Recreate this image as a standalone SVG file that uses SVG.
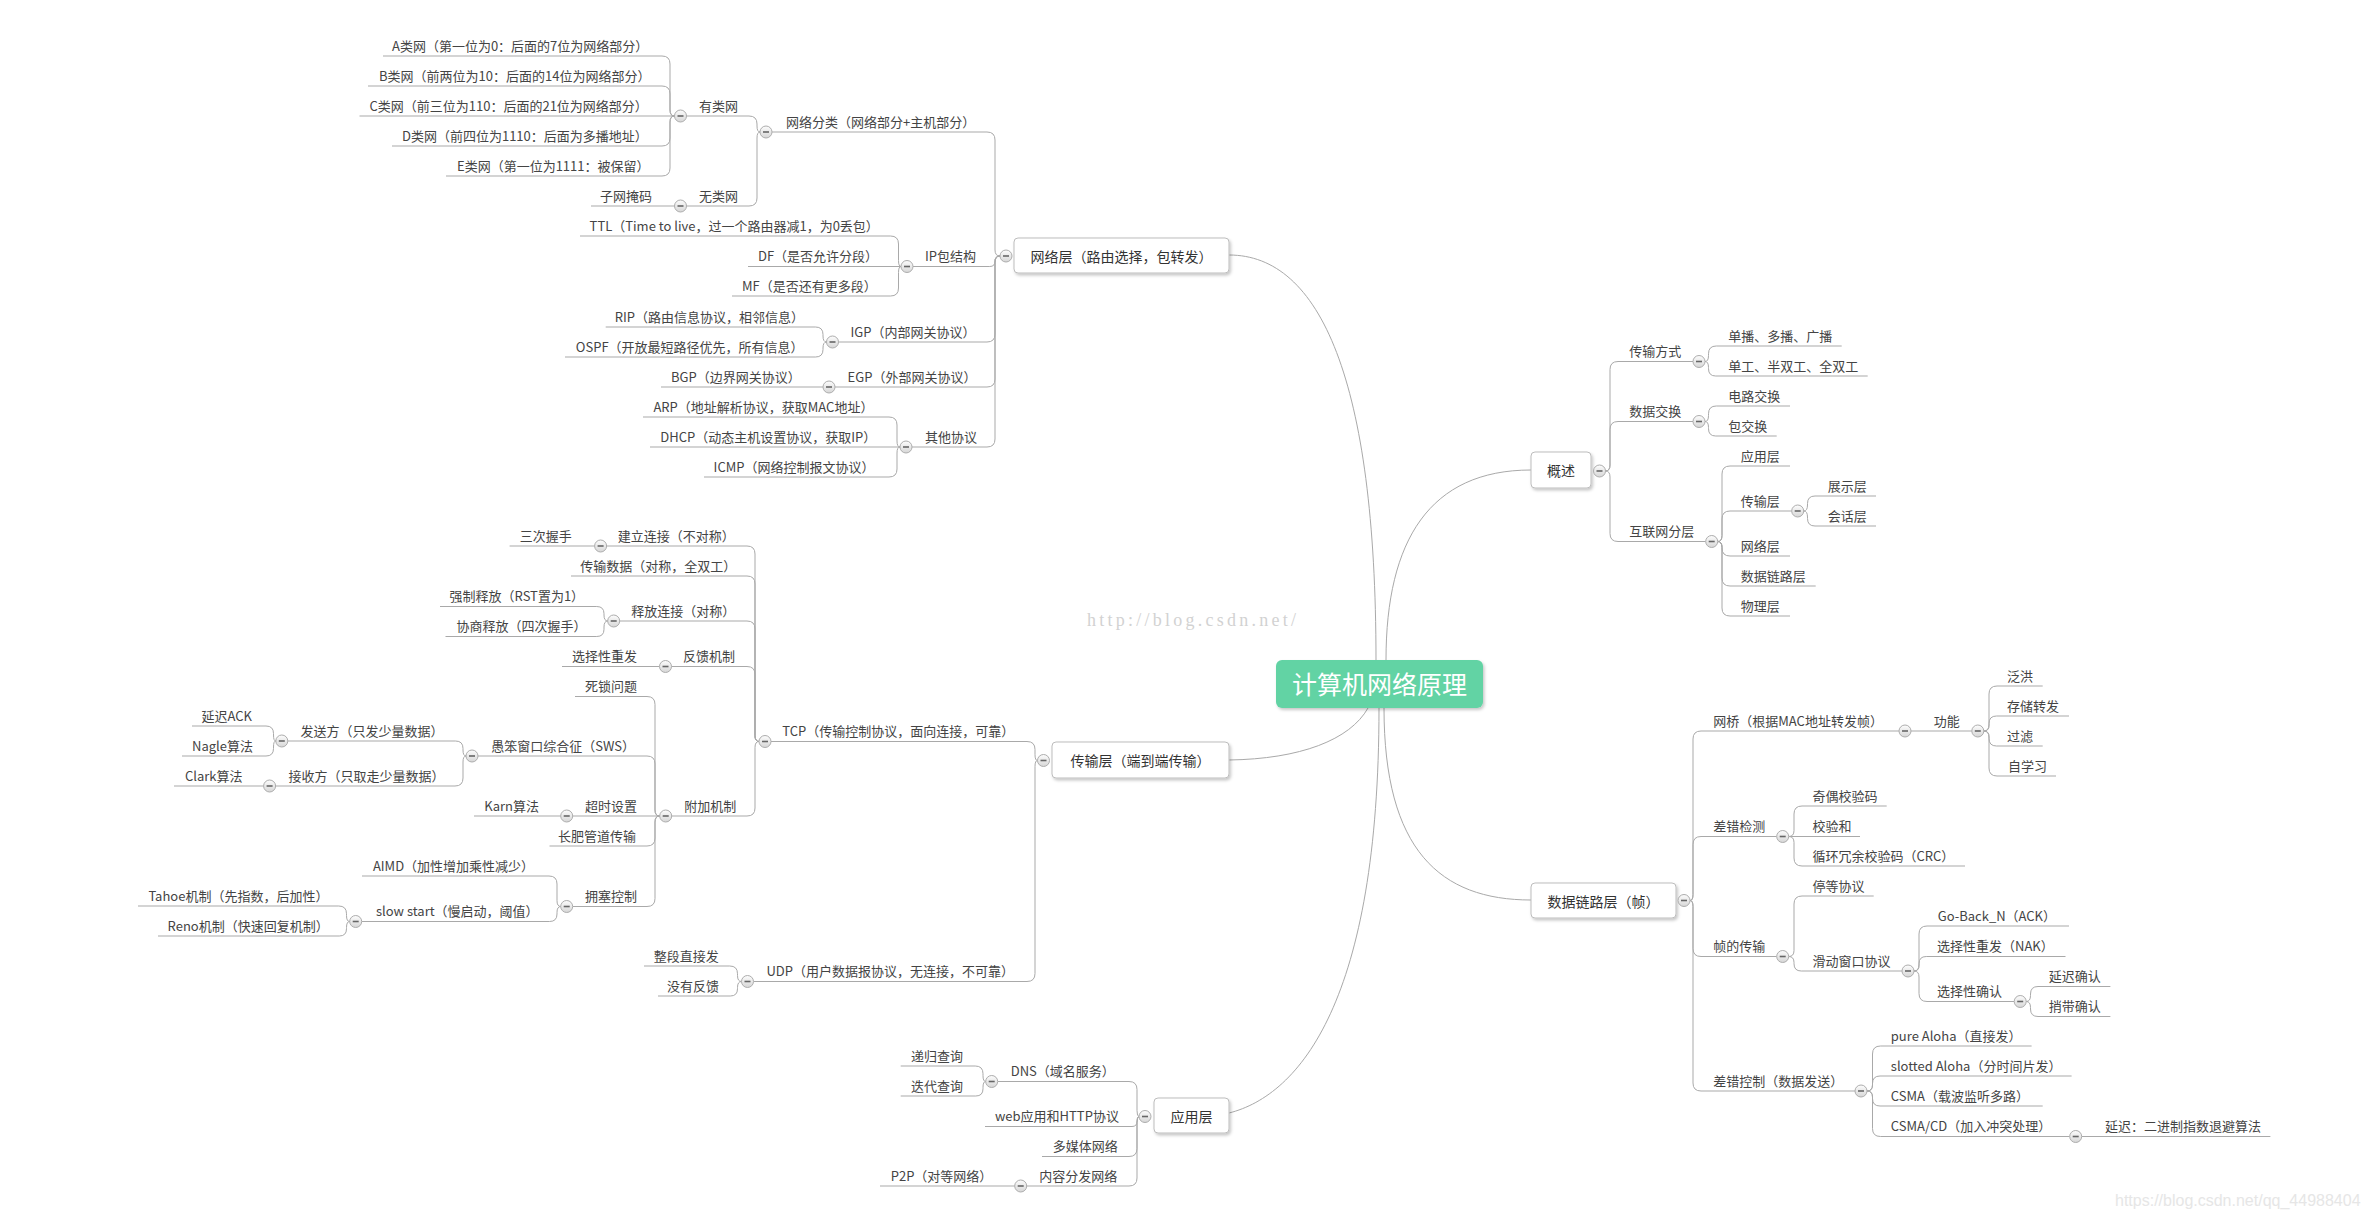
<svg xmlns="http://www.w3.org/2000/svg" width="2367" height="1220" viewBox="0 0 2367 1220">
<style>
text{font-family:"Noto Sans CJK SC","Microsoft YaHei",sans-serif;fill:#444;font-size:13px}
.mt{font-size:14px;text-anchor:middle;fill:#333}
.ct{font-size:25px;text-anchor:middle;fill:#fff}
.ln{fill:none;stroke:#a9a9a9;stroke-width:1}
.box{fill:#fff;stroke:#bdbdbd;stroke-width:1}
.wm1{font-family:"Liberation Serif",serif;font-size:18px;fill:#d2d2d2}
.wm2{font-family:"Liberation Sans",Arial,sans-serif;font-size:16px;fill:#e6e6e6}
</style>
<defs>
<linearGradient id="cg" x1="0" y1="0" x2="0" y2="1"><stop offset="0" stop-color="#fdfdfd"/><stop offset="1" stop-color="#d6d6d6"/></linearGradient>
<filter id="sh" x="-10%" y="-20%" width="120%" height="150%"><feDropShadow dx="1.5" dy="2" stdDeviation="1.5" flood-color="#000" flood-opacity="0.22"/></filter>
<g id="btn"><circle r="6" fill="url(#cg)" stroke="#adadad" stroke-width="1"/><path d="M-3,0H3" stroke="#666" stroke-width="1.6"/></g>
</defs>
<rect width="2367" height="1220" fill="#fff"/>
<text class="wm1" x="1087" y="626" textLength="209" lengthAdjust="spacing">http://blog.csdn.net/</text>
<text class="wm2" x="2115" y="1206">https://blog.csdn.net/qq_44988404</text>

<g id="connectors" class="ln">
<path d="M1229,255 C1320,255 1376,380 1376,660"/>
<path d="M1386,660 C1386,540 1430,470 1531,470"/>
<path d="M1229,760 C1300,759 1350,740 1368,708"/>
<path d="M1229,1113 C1300,1095 1379,1000 1379,708"/>
<path d="M1384,708 C1384,850 1440,900 1531,900"/>
<!-- network -->
<path d="M1000,256 Q995,256 995,250 V140 Q995,132 987,132 H772"/>
<path d="M1000,256 Q995,256 995,261.25 Q995,266.5 989.75,266.5 H913"/>
<path d="M1000,256 Q995,256 995,262 V334 Q995,342 987,342 H838.5"/>
<path d="M1000,256 Q995,256 995,262 V379 Q995,387 987,387 H835"/>
<path d="M1000,256 Q995,256 995,262 V439 Q995,447 987,447 H912"/>
<path d="M760,132 Q757,132 757,126 V124 Q757,116 749,116 H686.5"/>
<path d="M760,132 Q757,132 757,138 V198 Q757,206 749,206 H686.5"/>
<path d="M674.5,116 Q670,116 670,110 V64 Q670,56 662,56 H383"/>
<path d="M674.5,116 Q670,116 670,110 V94 Q670,86 662,86 H368"/>
<path d="M674.5,116 H359.5"/>
<path d="M674.5,116 Q670,116 670,122 V138 Q670,146 662,146 H392"/>
<path d="M674.5,116 Q670,116 670,122 V168 Q670,176 662,176 H446"/>
<path d="M674.5,206 H591"/>
<path d="M901,266.5 Q898.5,266.5 898.5,260.5 V244 Q898.5,236 890.5,236 H580"/>
<path d="M901,266.5 H748"/>
<path d="M901,266.5 Q898.5,266.5 898.5,272.5 V288 Q898.5,296 890.5,296 H732"/>
<path d="M826.5,342 Q823,342 823,336 V334.5 Q823,327 815.5,327 H605.7"/>
<path d="M826.5,342 Q823,342 823,348 V349.5 Q823,357 815.5,357 H565"/>
<path d="M823,387 H661"/>
<path d="M900,447 Q897,447 897,441 V425 Q897,417 889,417 H643"/>
<path d="M900,447 H650"/>
<path d="M900,447 Q897,447 897,453 V469 Q897,477 889,477 H704"/>
<!-- transport -->
<path d="M1037.5,760.5 Q1035,760.5 1035,754.5 V749.5 Q1035,741.5 1027,741.5 H771"/>
<path d="M1037.5,760.5 Q1035,760.5 1035,766.5 V973.5 Q1035,981.5 1027,981.5 H753.5"/>
<path d="M759,741.5 Q755,741.5 755,735.5 V554 Q755,546 747,546 H606.6"/>
<path d="M759,741.5 Q755,741.5 755,735.5 V584 Q755,576 747,576 H571"/>
<path d="M759,741.5 Q755,741.5 755,735.5 V629 Q755,621 747,621 H619.7"/>
<path d="M759,741.5 Q755,741.5 755,735.5 V674.5 Q755,666.5 747,666.5 H671.5"/>
<path d="M759,741.5 Q755,741.5 755,747.5 V808 Q755,816 747,816 H671.7"/>
<path d="M594.6,546 H509.6"/>
<path d="M607.7,621 Q604,621 604,615 V613.75 Q604,606.5 596.75,606.5 H440"/>
<path d="M607.7,621 Q604,621 604,627 V629.25 Q604,636.5 596.75,636.5 H445.5"/>
<path d="M659.5,666.5 H562"/>
<path d="M659.7,816 Q655,816 655,810 V704.5 Q655,696.5 647,696.5 H575"/>
<path d="M659.7,816 Q655,816 655,810 V764 Q655,756 647,756 H478"/>
<path d="M659.7,816 H572.7"/>
<path d="M659.7,816 Q655,816 655,822 V838 Q655,846 647,846 H549.5"/>
<path d="M659.7,816 Q655,816 655,822 V898.5 Q655,906.5 647,906.5 H572.7"/>
<path d="M466,756 Q463,756 463,750 V748.5 Q463,741 455.5,741 H287.8"/>
<path d="M466,756 Q463,756 463,762 V778 Q463,786 455,786 H275.6"/>
<path d="M275.8,741 Q273.5,741 273.5,735 V733.5 Q273.5,726 266,726 H192"/>
<path d="M275.8,741 Q273.5,741 273.5,747 V748.5 Q273.5,756 266,756 H182"/>
<path d="M263.6,786 H174"/>
<path d="M560.7,816 H474"/>
<path d="M560.7,906.5 Q557,906.5 557,900.5 V884 Q557,876 549,876 H362"/>
<path d="M560.7,906.5 Q557,906.5 557,912.5 V914 Q557,921.5 549.5,921.5 H361.7"/>
<path d="M349.7,921.5 Q346.5,921.5 346.5,915.5 V913.75 Q346.5,906 338.75,906 H138"/>
<path d="M349.7,921.5 Q346.5,921.5 346.5,927.5 V928.75 Q346.5,936 339.25,936 H158"/>
<path d="M741.5,981.5 Q737.5,981.5 737.5,975.5 V973.75 Q737.5,966 729.75,966 H644"/>
<path d="M741.5,981.5 Q737.5,981.5 737.5,987.5 V988.75 Q737.5,996 730.25,996 H658"/>
<!-- application -->
<path d="M1139,1116.5 Q1137,1116.5 1137,1110.5 V1089.5 Q1137,1081.5 1129,1081.5 H997.7"/>
<path d="M1139,1116.5 Q1137,1116.5 1137,1121.5 Q1137,1126.5 1132,1126.5 H985"/>
<path d="M1139,1116.5 Q1137,1116.5 1137,1122.5 V1148.5 Q1137,1156.5 1129,1156.5 H1042"/>
<path d="M1139,1116.5 Q1137,1116.5 1137,1122.5 V1178 Q1137,1186 1129,1186 H1026.7"/>
<path d="M985.7,1081.5 Q983,1081.5 983,1075.5 V1073.75 Q983,1066 975.25,1066 H900.7"/>
<path d="M985.7,1081.5 Q983,1081.5 983,1087.5 V1088.75 Q983,1096 975.75,1096 H900.7"/>
<path d="M1014.7,1186 H880"/>
<!-- overview -->
<path d="M1605.5,471 Q1610,471 1610,465 V369.5 Q1610,361.5 1618,361.5 H1693"/>
<path d="M1605.5,471 Q1610,471 1610,465 V429.5 Q1610,421.5 1618,421.5 H1693"/>
<path d="M1605.5,471 Q1610,471 1610,477 V533.5 Q1610,541.5 1618,541.5 H1705.7"/>
<path d="M1705,361.5 Q1708.5,361.5 1708.5,355.5 V353.75 Q1708.5,346 1716.25,346 H1841.7"/>
<path d="M1705,361.5 Q1708.5,361.5 1708.5,367.5 V368.75 Q1708.5,376 1715.75,376 H1867.7"/>
<path d="M1705,421.5 Q1708.5,421.5 1708.5,415.5 V413.75 Q1708.5,406 1716.25,406 H1790"/>
<path d="M1705,421.5 Q1708.5,421.5 1708.5,427.5 V428.75 Q1708.5,436 1715.75,436 H1776.7"/>
<path d="M1717.7,541.5 Q1722,541.5 1722,535.5 V474 Q1722,466 1730,466 H1790"/>
<path d="M1717.7,541.5 Q1722,541.5 1722,535.5 V519 Q1722,511 1730,511 H1791.7"/>
<path d="M1717.7,541.5 Q1722,541.5 1722,547.5 V548 Q1722,556 1730,556 H1790"/>
<path d="M1717.7,541.5 Q1722,541.5 1722,547.5 V578 Q1722,586 1730,586 H1815.7"/>
<path d="M1717.7,541.5 Q1722,541.5 1722,547.5 V608 Q1722,616 1730,616 H1790"/>
<path d="M1803.7,511 Q1807.5,511 1807.5,505 V503.5 Q1807.5,496 1815,496 H1876"/>
<path d="M1803.7,511 Q1807.5,511 1807.5,517 V518.5 Q1807.5,526 1815,526 H1876"/>
<!-- data link -->
<path d="M1690,900.5 Q1693,900.5 1693,894.5 V739 Q1693,731 1701,731 H1899"/>
<path d="M1690,900.5 Q1693,900.5 1693,894.5 V844.5 Q1693,836.5 1701,836.5 H1776.7"/>
<path d="M1690,900.5 Q1693,900.5 1693,906.5 V948.5 Q1693,956.5 1701,956.5 H1776.7"/>
<path d="M1690,900.5 Q1693,900.5 1693,906.5 V1083 Q1693,1091 1701,1091 H1855"/>
<path d="M1911,731 H1971.8"/>
<path d="M1983.8,731 Q1989,731 1989,725 V694 Q1989,686 1997,686 H2042.7"/>
<path d="M1983.8,731 Q1989,731 1989,725 V723.5 Q1989,716 1996.5,716 H2069"/>
<path d="M1983.8,731 Q1989,731 1989,737 V738.5 Q1989,746 1996.5,746 H2042.7"/>
<path d="M1983.8,731 Q1989,731 1989,737 V768 Q1989,776 1997,776 H2056"/>
<path d="M1788.7,836.5 Q1794,836.5 1794,830.5 V814 Q1794,806 1802,806 H1886.7"/>
<path d="M1788.7,836.5 H1860"/>
<path d="M1788.7,836.5 Q1794,836.5 1794,842.5 V858 Q1794,866 1802,866 H1965"/>
<path d="M1788.7,956.5 Q1794,956.5 1794,950.5 V904 Q1794,896 1802,896 H1873.7"/>
<path d="M1788.7,956.5 Q1794,956.5 1794,962.5 V963.75 Q1794,971 1801.25,971 H1902"/>
<path d="M1914,971 Q1919,971 1919,965 V934 Q1919,926 1927,926 H2069"/>
<path d="M1914,971 Q1919,971 1919,965 V963.75 Q1919,956.5 1926.25,956.5 H2065.5"/>
<path d="M1914,971 Q1919,971 1919,977 V993.5 Q1919,1001.5 1927,1001.5 H2014.2"/>
<path d="M2026.2,1001.5 Q2030.5,1001.5 2030.5,995.5 V994 Q2030.5,986.5 2038,986.5 H2110.4"/>
<path d="M2026.2,1001.5 Q2030.5,1001.5 2030.5,1007.5 V1009 Q2030.5,1016.5 2038,1016.5 H2110.4"/>
<path d="M1867,1091 Q1872.5,1091 1872.5,1085 V1054 Q1872.5,1046 1880.5,1046 H2031.6"/>
<path d="M1867,1091 Q1872.5,1091 1872.5,1085 V1083.5 Q1872.5,1076 1880,1076 H2071.6"/>
<path d="M1867,1091 Q1872.5,1091 1872.5,1097 V1098.5 Q1872.5,1106 1880,1106 H2042.7"/>
<path d="M1867,1091 Q1872.5,1091 1872.5,1097 V1128.5 Q1872.5,1136.5 1880.5,1136.5 H2069.7"/>
<path d="M2081.7,1136.5 H2270.4"/>
</g>

<g id="root"><rect x="1276" y="660" width="207" height="48" rx="6" fill="#62d3a4" filter="url(#sh)"/><text class="ct" x="1379.5" y="694">计算机网络原理</text></g>

<g id="n-net"><rect class="box" x="1014" y="238" width="215" height="35" rx="4" filter="url(#sh)"/><text class="mt" x="1121.5" y="261.5">网络层（路由选择，包转发）</text><use href="#btn" x="1006" y="256"/></g>
<g id="n-wlfl"><text x="786" y="126.5">网络分类（网络部分+主机部分）</text><use href="#btn" x="766" y="132"/></g>
<g id="n-ylw"><text x="699" y="110.5">有类网</text><use href="#btn" x="680.5" y="116"/></g>
<g id="n-a"><text x="392" y="50.5">A类网（第一位为0：后面的7位为网络部分）</text></g>
<g id="n-b"><text x="379" y="80.5">B类网（前两位为10：后面的14位为网络部分）</text></g>
<g id="n-c"><text x="369.5" y="110.5">C类网（前三位为110：后面的21位为网络部分）</text></g>
<g id="n-d"><text x="402" y="140.5">D类网（前四位为1110：后面为多播地址）</text></g>
<g id="n-e"><text x="457" y="170.5">E类网（第一位为1111：被保留）</text></g>
<g id="n-wlw"><text x="699" y="200.5">无类网</text><use href="#btn" x="680.5" y="206"/></g>
<g id="n-zwym"><text x="600" y="200.5">子网掩码</text></g>
<g id="n-ip"><text x="925" y="261">IP包结构</text><use href="#btn" x="907" y="266.5"/></g>
<g id="n-ttl"><text x="589.6" y="230.5">TTL（Time to live，过一个路由器减1，为0丢包）</text></g>
<g id="n-df"><text x="758" y="261">DF（是否允许分段）</text></g>
<g id="n-mf"><text x="742" y="290.5">MF（是否还有更多段）</text></g>
<g id="n-igp"><text x="850.4" y="336.5">IGP（内部网关协议）</text><use href="#btn" x="832.5" y="342"/></g>
<g id="n-rip"><text x="614.8" y="321.5">RIP（路由信息协议，相邻信息）</text></g>
<g id="n-ospf"><text x="575.8" y="351.5">OSPF（开放最短路径优先，所有信息）</text></g>
<g id="n-egp"><text x="847.6" y="381.5">EGP（外部网关协议）</text><use href="#btn" x="829" y="387"/></g>
<g id="n-bgp"><text x="671" y="381.5">BGP（边界网关协议）</text></g>
<g id="n-qt"><text x="925" y="441.5">其他协议</text><use href="#btn" x="906" y="447"/></g>
<g id="n-arp"><text x="653.4" y="411.5">ARP（地址解析协议，获取MAC地址）</text></g>
<g id="n-dhcp"><text x="660.3" y="441.5">DHCP（动态主机设置协议，获取IP）</text></g>
<g id="n-icmp"><text x="713.6" y="471.5">ICMP（网络控制报文协议）</text></g>

<g id="t-trans"><rect class="box" x="1052" y="742" width="177" height="36" rx="4" filter="url(#sh)"/><text class="mt" x="1140.5" y="766">传输层（端到端传输）</text><use href="#btn" x="1043.5" y="760.5"/></g>
<g id="t-tcp"><text x="782.3" y="736">TCP（传输控制协议，面向连接，可靠）</text><use href="#btn" x="765" y="741.5"/></g>
<g id="t-jl"><text x="617.8" y="540.5">建立连接（不对称）</text><use href="#btn" x="600.6" y="546"/></g>
<g id="t-sw"><text x="519.8" y="540.5">三次握手</text></g>
<g id="t-cs"><text x="580.2" y="570.5">传输数据（对称，全双工）</text></g>
<g id="t-sf"><text x="631.2" y="615.5">释放连接（对称）</text><use href="#btn" x="613.7" y="621"/></g>
<g id="t-qz"><text x="449.6" y="601">强制释放（RST置为1）</text></g>
<g id="t-xs"><text x="456.5" y="631">协商释放（四次握手）</text></g>
<g id="t-fk"><text x="683" y="661">反馈机制</text><use href="#btn" x="665.5" y="666.5"/></g>
<g id="t-xzcf"><text x="572" y="661">选择性重发</text></g>
<g id="t-fj"><text x="684.3" y="810.5">附加机制</text><use href="#btn" x="665.7" y="816"/></g>
<g id="t-ss"><text x="585" y="691">死锁问题</text></g>
<g id="t-sws"><text x="491.2" y="750.5">愚笨窗口综合征（SWS）</text><use href="#btn" x="472" y="756"/></g>
<g id="t-fsf"><text x="300.6" y="735.5">发送方（只发少量数据）</text><use href="#btn" x="281.8" y="741"/></g>
<g id="t-ysack"><text x="201.4" y="720.5">延迟ACK</text></g>
<g id="t-nagle"><text x="192" y="750.5">Nagle算法</text></g>
<g id="t-jsf"><text x="288.4" y="780.5">接收方（只取走少量数据）</text><use href="#btn" x="269.6" y="786"/></g>
<g id="t-clark"><text x="185" y="780.5">Clark算法</text></g>
<g id="t-cssz"><text x="585" y="810.5">超时设置</text><use href="#btn" x="566.7" y="816"/></g>
<g id="t-karn"><text x="484.3" y="810.5">Karn算法</text></g>
<g id="t-cf"><text x="558" y="840.5">长肥管道传输</text></g>
<g id="t-yskz"><text x="585" y="901">拥塞控制</text><use href="#btn" x="566.7" y="906.5"/></g>
<g id="t-aimd"><text x="372.9" y="870.5">AIMD（加性增加乘性减少）</text></g>
<g id="t-slow"><text x="376" y="916">slow start（慢启动，阈值）</text><use href="#btn" x="355.7" y="921.5"/></g>
<g id="t-tahoe"><text x="148.4" y="900.5">Tahoe机制（先指数，后加性）</text></g>
<g id="t-reno"><text x="167.6" y="930.5">Reno机制（快速回复机制）</text></g>
<g id="t-udp"><text x="766.5" y="976">UDP（用户数据报协议，无连接，不可靠）</text><use href="#btn" x="747.5" y="981.5"/></g>
<g id="t-zd"><text x="653.8" y="960.5">整段直接发</text></g>
<g id="t-my"><text x="666.9" y="990.5">没有反馈</text></g>

<g id="a-app"><rect class="box" x="1154" y="1098" width="75" height="35" rx="4" filter="url(#sh)"/><text class="mt" x="1191.5" y="1121.5">应用层</text><use href="#btn" x="1145" y="1116.5"/></g>
<g id="a-dns"><text x="1010.7" y="1076">DNS（域名服务）</text><use href="#btn" x="991.7" y="1081.5"/></g>
<g id="a-dg"><text x="911" y="1060.5">递归查询</text></g>
<g id="a-dd"><text x="911" y="1090.5">迭代查询</text></g>
<g id="a-web"><text x="995" y="1121">web应用和HTTP协议</text></g>
<g id="a-dmt"><text x="1052.7" y="1151">多媒体网络</text></g>
<g id="a-nr"><text x="1039.3" y="1180.5">内容分发网络</text><use href="#btn" x="1020.7" y="1186"/></g>
<g id="a-p2p"><text x="890.7" y="1180.5">P2P（对等网络）</text></g>

<g id="o-ov"><rect class="box" x="1531" y="452" width="60" height="36" rx="4" filter="url(#sh)"/><text class="mt" x="1561" y="476">概述</text><use href="#btn" x="1599.5" y="471"/></g>
<g id="o-csfs"><text x="1629.3" y="356">传输方式</text><use href="#btn" x="1699" y="361.5"/></g>
<g id="o-db"><text x="1728.3" y="340.5">单播、多播、广播</text></g>
<g id="o-dg"><text x="1728.3" y="370.5">单工、半双工、全双工</text></g>
<g id="o-sjjh"><text x="1629.3" y="416">数据交换</text><use href="#btn" x="1699" y="421.5"/></g>
<g id="o-dl"><text x="1728.3" y="400.5">电路交换</text></g>
<g id="o-bjh"><text x="1728.3" y="430.5">包交换</text></g>
<g id="o-hlw"><text x="1629.3" y="536">互联网分层</text><use href="#btn" x="1711.7" y="541.5"/></g>
<g id="o-yyc"><text x="1740.7" y="460.5">应用层</text></g>
<g id="o-csc"><text x="1740.7" y="505.5">传输层</text><use href="#btn" x="1797.7" y="511"/></g>
<g id="o-zsc"><text x="1827.7" y="490.5">展示层</text></g>
<g id="o-hhc"><text x="1827.7" y="520.5">会话层</text></g>
<g id="o-wlc"><text x="1740.7" y="550.5">网络层</text></g>
<g id="o-sjll"><text x="1740.7" y="580.5">数据链路层</text></g>
<g id="o-wl"><text x="1740.7" y="610.5">物理层</text></g>

<g id="d-dl"><rect class="box" x="1531" y="883" width="145" height="35" rx="4" filter="url(#sh)"/><text class="mt" x="1603.5" y="906.5">数据链路层（帧）</text><use href="#btn" x="1684" y="900.5"/></g>
<g id="d-wq"><text x="1713.3" y="725.5">网桥（根据MAC地址转发帧）</text><use href="#btn" x="1905" y="731"/></g>
<g id="d-gn"><text x="1933.7" y="725.5">功能</text><use href="#btn" x="1977.8" y="731"/></g>
<g id="d-fh"><text x="2007" y="680.5">泛洪</text></g>
<g id="d-cc"><text x="2007" y="710.5">存储转发</text></g>
<g id="d-gl"><text x="2007" y="740.5">过滤</text></g>
<g id="d-zxx"><text x="2008" y="770.5">自学习</text></g>
<g id="d-cwjc"><text x="1713.3" y="831">差错检测</text><use href="#btn" x="1782.7" y="836.5"/></g>
<g id="d-jo"><text x="1812.4" y="800.5">奇偶校验码</text></g>
<g id="d-jyh"><text x="1812.4" y="831">校验和</text></g>
<g id="d-crc"><text x="1812.4" y="860.5">循环冗余校验码（CRC）</text></g>
<g id="d-zcs"><text x="1713.3" y="951">帧的传输</text><use href="#btn" x="1782.7" y="956.5"/></g>
<g id="d-td"><text x="1812.4" y="890.5">停等协议</text></g>
<g id="d-hd"><text x="1812.4" y="965.5">滑动窗口协议</text><use href="#btn" x="1908" y="971"/></g>
<g id="d-gb"><text x="1937.8" y="920.5">Go-Back_N（ACK）</text></g>
<g id="d-xzcf"><text x="1937" y="951">选择性重发（NAK）</text></g>
<g id="d-xzqr"><text x="1937" y="996">选择性确认</text><use href="#btn" x="2020.2" y="1001.5"/></g>
<g id="d-ysqr"><text x="2048.8" y="981">延迟确认</text></g>
<g id="d-sd"><text x="2048.8" y="1011">捎带确认</text></g>
<g id="d-cwkz"><text x="1713.3" y="1085.5">差错控制（数据发送）</text><use href="#btn" x="1861" y="1091"/></g>
<g id="d-pure"><text x="1890.8" y="1040.5">pure Aloha（直接发）</text></g>
<g id="d-slot"><text x="1890.8" y="1070.5">slotted Aloha（分时间片发）</text></g>
<g id="d-csma"><text x="1890.8" y="1100.5">CSMA（载波监听多路）</text></g>
<g id="d-cd"><text x="1890.8" y="1131">CSMA/CD（加入冲突处理）</text><use href="#btn" x="2075.7" y="1136.5"/></g>
<g id="d-ys"><text x="2105" y="1131">延迟：二进制指数退避算法</text></g>
</svg>
